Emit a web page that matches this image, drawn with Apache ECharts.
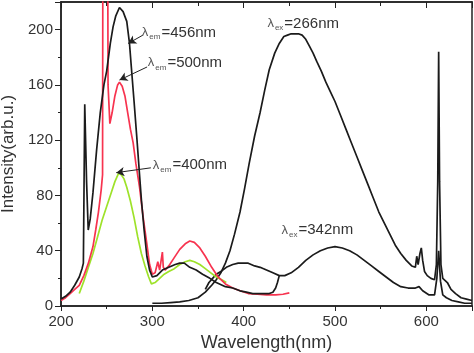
<!DOCTYPE html>
<html>
<head>
<meta charset="utf-8">
<script src="https://cdn.jsdelivr.net/npm/echarts@6/dist/echarts.min.js"></script>
<style>
  html, body { margin: 0; padding: 0; background: #fff; }
  #chart { width: 474px; height: 353px; }
</style>
</head>
<body>
<div id="chart"></div>
<script>
  // excitation, monitored at 456 nm (black)
  const exc456Wl = [200, 205, 210, 215, 220, 223, 224.5, 226, 228, 229.8, 232, 235, 239, 243, 247, 250, 254, 257, 260, 264,
    268, 272, 275, 277, 280, 283, 286, 288, 291, 294, 297, 300, 305, 311, 318, 325, 330, 335, 341, 348,
    355, 363, 370, 380, 388, 396, 403, 410, 420, 428, 432, 435, 437, 439];
  const exc456Int = [5, 7, 10, 15, 21, 27, 31, 146, 90, 55, 63, 82, 113, 140, 160, 170, 190, 202, 210, 216,
    213, 206, 190, 173, 148, 122, 95, 77, 55, 36, 26, 21, 22, 26, 28, 30, 31, 31, 28, 26,
    23, 20, 17, 14, 13, 11, 10, 9, 9, 9, 10, 13, 17, 22];

  // excitation, monitored at 500 nm (red)
  const exc500Wl = [200, 205, 210, 215, 220, 225, 230, 235, 238, 241, 244, 245.5, 246.5, 250, 251.5, 253.5, 256, 259, 262, 264,
    267, 270, 273, 276, 279, 282, 286, 290, 294, 297, 300, 303, 306, 308, 310, 311, 312, 314, 318, 324,
    330, 336, 341, 346, 352, 358, 365, 372, 380, 388, 396, 405, 415, 425, 435, 443, 450];
  const exc500Int = [4, 6, 9, 12, 15, 22, 31, 43, 55, 68, 84, 95, 600, 600, 160, 132, 140, 152, 160, 162,
    159, 152, 140, 128, 118, 103, 86, 64, 45, 30, 23, 24, 32, 26, 27, 39, 28, 26, 29, 35,
    41, 45, 47, 46, 42, 36, 28, 21, 16, 13, 11, 9, 8.5, 8, 8, 8.5, 9.5];

  // excitation, monitored at 400 nm (green)
  const exc400Wl = [220, 225, 230, 235, 240, 245, 250, 255, 259, 263, 266, 269, 272, 276, 280, 284, 288, 292, 296, 299,
    303, 308, 313, 318, 324, 330, 336, 341, 346, 352, 358, 364, 370, 376, 381];
  const exc400Int = [9, 18, 28, 38, 50, 62, 72, 82, 90, 96, 95, 92, 86, 76, 64, 50, 38, 29, 21, 16,
    17, 20, 23, 25, 27, 30, 32, 33, 32, 30, 27, 24, 21, 19, 17];

  // emission, excited at 266 nm
  const em266Wl = [300, 310, 320, 330, 340, 350, 358, 365, 370, 375, 380, 385, 390, 396, 401, 406, 412, 418, 423, 428,
    434, 439, 444, 448, 452, 456, 460, 464, 468, 472, 476, 480, 485, 490, 495, 500, 506, 512, 518, 524,
    530, 536, 542, 548, 554, 560, 566, 572, 578, 584, 588, 589.5, 591, 593, 594.5, 596, 598, 601, 605, 609,
    611, 612.5, 613.5, 614.5, 616, 618, 620, 623, 627, 632, 638, 644, 650];
  const em266Int = [2, 2, 2.5, 3, 4, 6, 10, 15, 19, 24, 31, 40, 52, 68, 85, 103, 123, 140, 156, 171,
    183, 190, 195, 196, 197, 197, 197, 196, 193, 188, 183, 177, 170, 162, 155, 148, 138, 128, 118, 108,
    98, 88, 78, 68, 60, 52, 44, 38, 33, 29, 28, 36, 30, 38, 42, 33, 25, 22, 20, 19,
    30, 90, 184, 90, 30, 20, 21, 17, 12, 9, 6, 5, 4];

  // emission, excited at 342 nm
  const em342Wl = [358, 362, 366, 370, 375, 381, 388, 394, 399, 405, 412, 418, 425, 432, 439, 445, 452, 460, 468, 476,
    484, 492, 500, 508, 516, 524, 532, 540, 548, 556, 564, 572, 580, 588, 592, 596, 603, 609, 611.5, 613.5,
    615.5, 618, 622, 628, 635, 642, 650];
  const em342Int = [12, 17, 20, 23, 25, 28, 30, 31, 31, 31, 29, 28, 26, 24, 22, 22, 24, 28, 33, 37,
    40, 42, 43, 42, 40, 37, 33, 29, 25, 21, 17, 14, 13, 13, 14, 11, 8, 8, 20, 40,
    18, 8, 6, 4, 3, 2, 2];

  const xMin = 200, xMax = 650, xStep = 100;
  const yMin = 0, yMax = 220, yStep = 40;

  const zip = (xs, ys) => xs.map((x, i) => [x, ys[i]]);

  const BLACK = '#1b1b1b';
  const RED = '#f7334f';
  const GREEN = '#9ee22a';
  const AXIS = '#222';
  const FONT = '"Liberation Sans", Arial, sans-serif';

  const chart = echarts.init(document.getElementById('chart'), null, {renderer: 'canvas'});

  function xAxisDef(pos, step, len, inside, main) {
    return {
      type: 'value', position: pos, min: xMin, max: xMax, interval: step,
      axisLine: {show: true, onZero: false, lineStyle: {color: AXIS, width: 1.5}},
      axisTick: {show: true, inside: inside, length: len, lineStyle: {color: AXIS, width: 1}},
      axisLabel: main ? {
        show: true, margin: 8, color: '#333', fontSize: 15, fontFamily: FONT,
        formatter: v => (v % 100 === 0 ? String(v) : '')
      } : {show: false},
      splitLine: {show: false},
      name: main ? 'Wavelength(nm)' : '',
      nameLocation: 'middle', nameGap: 27,
      nameTextStyle: {color: '#333', fontSize: 18, fontFamily: FONT}
    };
  }

  function yAxisDef(pos, step, len, showTicks, main) {
    return {
      type: 'value', position: pos, min: yMin, max: yMax, interval: step,
      axisLine: {show: true, onZero: false, lineStyle: {color: AXIS, width: 1.5}},
      axisTick: {show: showTicks, inside: false, length: len, lineStyle: {color: AXIS, width: 1}},
      axisLabel: main ? {
        show: true, margin: 8, color: '#333', fontSize: 15, fontFamily: FONT,
        formatter: v => (v % 40 === 0 && v <= 200 ? String(v) : '')
      } : {show: false},
      splitLine: {show: false},
      name: main ? 'Intensity(arb.u.)' : '',
      nameLocation: 'middle', nameGap: 41, nameRotate: 90,
      nameTextStyle: {color: '#333', fontSize: 17, fontFamily: FONT}
    };
  }

  function line(name, data, color, extra) {
    return Object.assign({
      name: name, type: 'line', data: data, xAxisIndex: 0, yAxisIndex: 0,
      showSymbol: false, symbol: 'none', smooth: false, clip: true,
      lineStyle: {color: color, width: 1.7}, itemStyle: {color: color},
      z: 3
    }, extra || {});
  }

  // arrows pointing at the three excitation peaks, in data coordinates
  function arrow(from, to) {
    return {
      silent: true, symbol: ['none', 'arrow'], symbolSize: [7, 8],
      label: {show: false},
      lineStyle: {color: AXIS, width: 1, type: 'solid'},
      data: [[{coord: from}, {coord: to}]]
    };
  }

  chart.setOption({
    animation: false,
    backgroundColor: '#fff',
    grid: {left: 61, right: 2, top: 2, bottom: 47, containLabel: false, outerBoundsMode: 'none'},
    xAxis: [
      xAxisDef('bottom', xStep, 5, false, true),
      xAxisDef('bottom', xStep / 2, 3, false, false),
      xAxisDef('top', xStep, 6, true, false),
      xAxisDef('top', xStep / 2, 4, true, false)
    ],
    yAxis: [
      yAxisDef('left', yStep, 6, true, true),
      yAxisDef('left', yStep / 2, 3, true, false),
      yAxisDef('right', yStep, 0, false, false)
    ],
    series: [
      line('em266', zip(em266Wl, em266Int), BLACK),
      line('em342', zip(em342Wl, em342Int), BLACK),
      line('exc400', zip(exc400Wl, exc400Int), GREEN, {markLine: arrow([298.4, 100], [260.5, 96.5])}),
      line('exc500', zip(exc500Wl, exc500Int), RED, {markLine: arrow([294.3, 173], [264, 163.5])}),
      line('exc456', zip(exc456Wl, exc456Int), BLACK, {markLine: arrow([289.6, 196], [273.5, 190])})
    ]
  });

  // annotation labels, anchored in data coordinates
  const labels = [
    {sub: 'em', text: '=456nm', at: [288.5, 198]},
    {sub: 'em', text: '=500nm', at: [295, 176]},
    {sub: 'em', text: '=400nm', at: [300.5, 102]},
    {sub: 'ex', text: '=266nm', at: [426, 204.5]},
    {sub: 'ex', text: '=342nm', at: [441.5, 55]}
  ];

  chart.setOption({
    graphic: labels.map(l => {
      const p = chart.convertToPixel({xAxisIndex: 0, yAxisIndex: 0}, l.at);
      return {
        type: 'text', x: p[0], y: p[1], z: 10, silent: true,
        style: {
          text: '{l|λ}{s|' + l.sub + '}{n|' + l.text + '}',
          verticalAlign: 'middle', align: 'left',
          rich: {
            l: {fontSize: 13, fontFamily: FONT, fill: '#555', lineHeight: 18, verticalAlign: 'middle'},
            s: {fontSize: 8, fontFamily: FONT, fill: '#555', lineHeight: 18, padding: [9, 1, 0, 1]},
            n: {fontSize: 15, fontFamily: FONT, fill: '#333', lineHeight: 18, verticalAlign: 'middle'}
          }
        }
      };
    })
  });
</script>
</body>
</html>
